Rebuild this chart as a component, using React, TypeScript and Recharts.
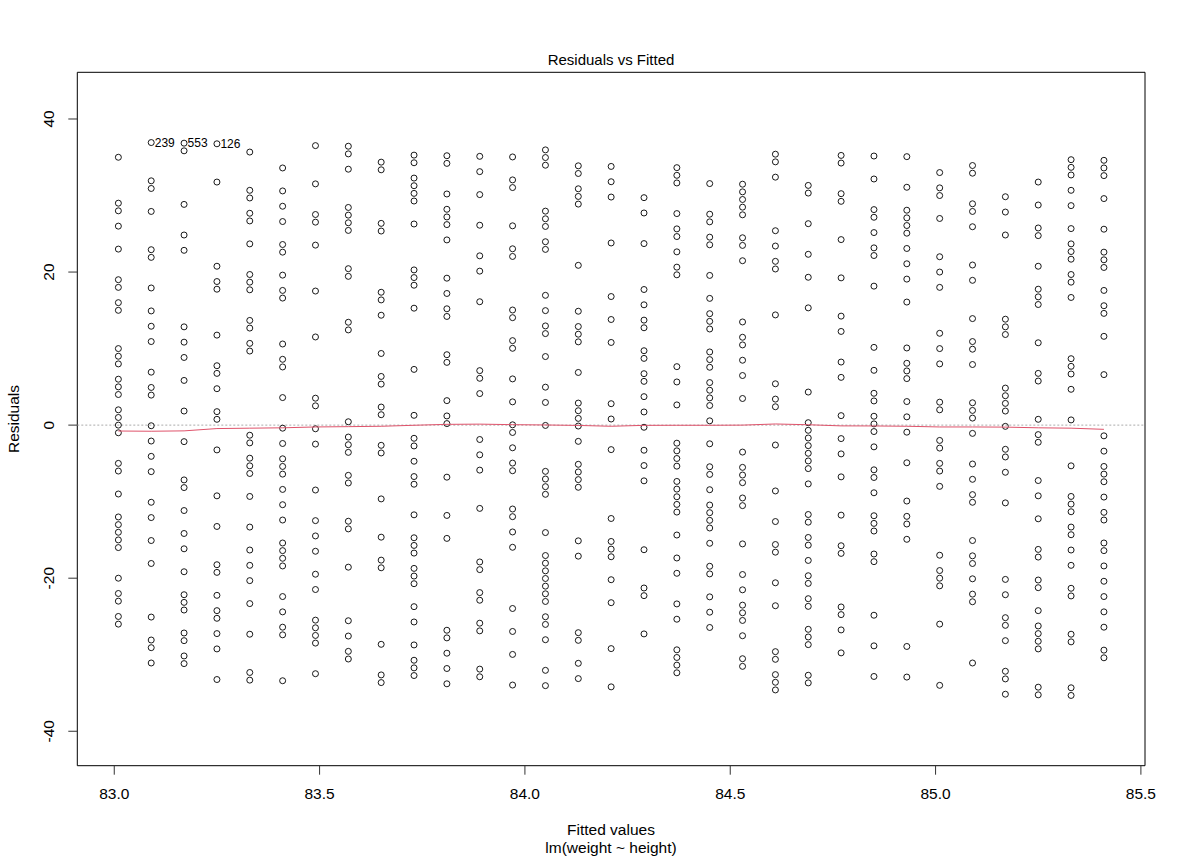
import React from "react";
import { ScatterChart, Scatter, XAxis, YAxis, ReferenceLine, ReferenceArea } from "recharts";

// Fitted values (one per distinct height)
const fittedValues = [
  83.01, 83.09, 83.17, 83.25, 83.33, 83.41, 83.49, 83.57, 83.65, 83.73, 83.81,
  83.89, 83.97, 84.05, 84.13, 84.21, 84.29, 84.37, 84.45, 84.53, 84.61, 84.69,
  84.77, 84.85, 84.93, 85.01, 85.09, 85.17, 85.25, 85.33, 85.41,
];

// Residuals for each fitted value column
const col00 = [35,29,28,26,23,19,18,16,15,10,9,8,6,5,4,2,1,0,-1,-5,-6,-9,-12,-13,-14,-15,-16,-20,-22,-23,-25,-26];
const col01 = [36.92,31.92,30.92,27.92,22.92,21.92,17.92,14.92,12.92,10.92,6.92,4.92,3.92,-0.08,-2.08,-4.08,-6.08,-10.08,-12.08,-15.08,-18.08,-25.08,-28.08,-29.08,-31.08];
const col02 = [36.84,35.84,28.84,24.84,22.84,12.84,10.84,8.84,5.84,1.84,-2.16,-7.16,-8.16,-11.16,-14.16,-16.16,-19.16,-22.16,-23.16,-24.16,-27.16,-28.16,-30.16,-31.16];
const col03 = [36.76,31.76,20.76,18.76,17.76,11.76,7.76,6.76,4.76,1.76,0.76,-3.24,-9.24,-13.24,-18.24,-19.24,-22.24,-24.24,-25.24,-27.24,-29.24,-33.24];
const col04 = [35.68,30.68,29.68,27.68,26.68,23.68,19.68,18.68,17.68,13.68,12.68,10.68,9.68,-1.32,-2.32,-4.32,-5.32,-6.32,-9.32,-13.32,-16.32,-18.32,-20.32,-23.32,-27.32,-32.32,-33.32];
const col05 = [33.6,30.6,28.6,26.6,23.6,22.6,19.6,17.6,16.6,10.6,8.6,7.6,3.6,-0.4,-2.4,-4.4,-5.4,-6.4,-8.4,-10.4,-12.4,-15.4,-16.4,-17.4,-18.4,-22.4,-24.4,-26.4,-27.4,-33.4];
const col06 = [36.52,31.52,27.52,26.52,23.52,17.52,11.52,3.52,2.52,-0.48,-2.48,-8.48,-12.48,-14.48,-16.48,-19.48,-21.48,-25.48,-26.48,-27.48,-28.48,-32.48];
const col07 = [36.44,35.44,33.44,28.44,27.44,26.44,25.44,20.44,19.44,13.44,12.44,0.44,-1.56,-2.56,-3.56,-6.56,-7.56,-12.56,-13.56,-18.56,-25.56,-27.56,-29.56,-30.56];
const col08 = [34.36,33.36,26.36,25.36,17.36,16.36,14.36,9.36,6.36,5.36,2.36,1.36,-2.64,-3.64,-9.64,-14.64,-17.64,-18.64,-28.64,-32.64,-33.64];
const col09 = [35.28,34.28,32.28,31.28,30.28,29.28,26.28,20.28,19.28,18.28,15.28,7.28,1.28,-1.72,-2.72,-4.72,-6.72,-7.72,-11.72,-14.72,-15.72,-16.72,-18.72,-19.72,-20.72,-23.72,-25.72,-28.72,-30.72,-31.72,-32.72];
const col10 = [35.2,34.2,30.2,28.2,27.2,26.2,24.2,19.2,17.2,15.2,14.2,9.2,8.2,3.2,1.2,0.2,-6.8,-11.8,-14.8,-26.8,-27.8,-29.8,-31.8,-33.8];
const col11 = [35.12,33.12,30.12,26.12,22.12,20.12,16.12,7.12,6.12,4.12,-1.88,-3.88,-5.88,-10.88,-17.88,-18.88,-21.88,-22.88,-25.88,-26.88,-31.88,-32.88];
const col12 = [35.04,32.04,31.04,26.04,23.04,22.04,15.04,14.04,11.04,10.04,6.04,3.04,0.04,-0.96,-2.96,-4.96,-5.96,-10.96,-11.96,-13.96,-15.96,-23.96,-26.96,-29.96,-33.96];
const col13 = [35.96,34.96,33.96,27.96,26.96,25.96,23.96,22.96,16.96,14.96,12.96,11.96,8.96,4.96,2.96,-0.04,-6.04,-7.04,-8.04,-9.04,-14.04,-17.04,-18.04,-19.04,-20.04,-21.04,-22.04,-23.04,-25.04,-26.04,-28.04,-32.04,-34.04];
const col14 = [33.88,32.88,30.88,29.88,28.88,20.88,14.88,12.88,11.88,10.88,6.88,2.88,1.88,0.88,-0.12,-2.12,-5.12,-6.12,-7.12,-8.12,-15.12,-17.12,-27.12,-28.12,-31.12,-33.12];
const col15 = [33.8,31.8,29.8,23.8,16.8,13.8,10.8,2.8,0.8,-3.2,-12.2,-15.2,-16.2,-17.2,-20.2,-23.2,-29.2,-34.2];
const col16 = [29.72,27.72,23.72,17.72,15.72,13.72,12.72,9.72,8.72,6.72,5.72,3.72,1.72,-0.28,-3.28,-5.28,-7.28,-16.28,-21.28,-22.28,-27.28];
const col17 = [33.64,32.64,31.64,27.64,25.64,24.64,22.64,20.64,19.64,7.64,5.64,2.64,-2.36,-3.36,-4.36,-5.36,-7.36,-8.36,-9.36,-10.36,-11.36,-14.36,-17.36,-19.36,-23.36,-25.36,-29.36,-30.36,-31.36,-32.36];
const col18 = [31.56,27.56,26.56,24.56,23.56,19.56,16.56,14.56,13.56,12.56,9.56,8.56,7.56,5.56,4.56,3.56,2.56,0.56,-2.44,-5.44,-6.44,-8.44,-10.44,-11.44,-12.44,-13.44,-15.44,-18.44,-19.44,-22.44,-24.44,-26.44];
const col19 = [31.48,30.48,29.48,28.48,27.48,24.48,23.48,21.48,13.48,11.48,10.48,8.48,6.48,3.48,-3.52,-5.52,-6.52,-7.52,-9.52,-10.52,-15.52,-19.52,-21.52,-23.52,-24.52,-25.52,-27.52,-30.52,-31.52];
const col20 = [35.4,34.4,32.4,25.4,23.4,21.4,20.4,14.4,5.4,3.4,2.4,-2.6,-8.6,-12.6,-15.6,-16.6,-20.6,-23.6,-29.6,-30.6,-32.6,-33.6,-34.6];
const col21 = [31.32,30.32,26.32,22.32,19.32,15.32,4.32,0.32,-0.68,-1.68,-2.68,-3.68,-4.68,-5.68,-7.68,-11.68,-12.68,-14.68,-15.68,-17.68,-19.68,-20.68,-22.68,-23.68,-26.68,-27.68,-28.68,-32.68,-33.68];
const col22 = [35.24,34.24,30.24,29.24,24.24,19.24,14.24,12.24,8.24,6.24,1.24,-1.76,-3.76,-6.76,-11.76,-15.76,-16.76,-23.76,-24.76,-26.76,-29.76];
const col23 = [35.16,32.16,28.16,27.16,25.16,23.16,22.16,18.16,10.16,7.16,4.16,3.16,1.16,0.16,-0.84,-2.84,-5.84,-6.84,-8.84,-11.84,-12.84,-13.84,-16.84,-17.84,-24.84,-28.84,-32.84];
const col24 = [35.08,31.08,28.08,27.08,26.08,25.08,23.08,21.08,19.08,16.08,10.08,8.08,7.08,6.08,3.08,1.08,-0.92,-4.92,-9.92,-11.92,-12.92,-14.92,-28.92,-32.92];
const col25 = [33,31,30,27,22,20,18,12,10,8,3,2,-2,-3,-5,-6,-8,-17,-19,-20,-21,-26,-34];
const col26 = [33.92,32.92,28.92,27.92,25.92,20.92,18.92,13.92,10.92,9.92,7.92,2.92,1.92,0.92,-1.08,-5.08,-7.08,-9.08,-10.08,-15.08,-17.08,-18.08,-20.08,-22.08,-23.08,-31.08];
const col27 = [29.84,27.84,24.84,13.84,12.84,11.84,4.84,3.84,2.84,1.84,-0.16,-3.16,-4.16,-6.16,-10.16,-20.16,-22.16,-25.16,-26.16,-28.16,-32.16,-33.16,-35.16];
const col28 = [31.76,28.76,25.76,24.76,20.76,17.76,16.76,15.76,10.76,6.76,5.76,0.76,-1.24,-2.24,-7.24,-9.24,-12.24,-16.24,-17.24,-20.24,-21.24,-24.24,-26.24,-27.24,-28.24,-29.24,-34.24,-35.24];
const col29 = [34.68,33.68,32.68,30.68,28.68,25.68,23.68,22.68,21.68,19.68,18.68,16.68,8.68,7.68,6.68,4.68,0.68,-5.32,-9.32,-10.32,-11.32,-13.32,-14.32,-16.32,-18.32,-21.32,-22.32,-27.32,-28.32,-34.32,-35.32];
const col30 = [34.6,33.6,32.6,29.6,25.6,22.6,21.6,20.6,17.6,15.6,14.6,11.6,6.6,-1.4,-3.4,-5.4,-6.4,-7.4,-9.4,-11.4,-12.4,-15.4,-16.4,-18.4,-20.4,-22.4,-24.4,-26.4,-29.4,-30.4];

const residualColumns = [
  col00, col01, col02, col03, col04, col05, col06, col07, col08, col09, col10,
  col11, col12, col13, col14, col15, col16, col17, col18, col19, col20, col21,
  col22, col23, col24, col25, col26, col27, col28, col29, col30,
];

// Labelled observations (largest residuals)
const outlierIds = ["239", "553", "126"];
const outlierColumns = [1, 2, 3];

// Smoothed (lowess) residual line, one value per fitted value
const smoothResiduals = [
  -0.77, -0.8, -0.75, -0.45, -0.4, -0.35, -0.24, -0.2, -0.15, -0.02, 0.1,
  0.13, 0.06, 0.02, -0.04, -0.15, -0.03, -0.02, -0.02, 0.0, 0.15, 0.05,
  -0.1, -0.11, -0.15, -0.24, -0.24, -0.26, -0.35, -0.4, -0.55,
];

const xTicks = [83.0, 83.5, 84.0, 84.5, 85.0, 85.5];
const yTicks = [-40, -20, 0, 20, 40];
const xDomain = [82.91, 85.51];
const yDomain = [-44.5, 46.1];

const FONT = '"Liberation Sans", Arial, Helvetica, sans-serif';

type Pt = { x: number; y: number; label?: string };

const points: Pt[] = [];
residualColumns.forEach((col, i) => {
  const oi = outlierColumns.indexOf(i);
  const maxR = Math.max(...col);
  col.forEach((r) => {
    const p: Pt = { x: fittedValues[i], y: r };
    if (oi >= 0 && r === maxR) p.label = outlierIds[oi];
    points.push(p);
  });
});

const smoothData = fittedValues.map((f, i) => ({ x: f, y: smoothResiduals[i] }));

const PointShape = (props: any) => {
  const { cx, cy, payload } = props;
  if (cx == null || cy == null) return <g />;
  return (
    <g>
      <circle cx={cx} cy={cy} r={3} fill="none" stroke="#000" strokeWidth={0.9} />
      {payload && payload.label ? (
        <text x={cx + 3.5} y={cy + 4.3} fontSize={12} fontFamily={FONT} fill="#000">
          {payload.label}
        </text>
      ) : null}
    </g>
  );
};

const XTick = (props: any) => {
  const { x, y, payload } = props;
  return (
    <text x={x} y={y + 22} textAnchor="middle" fontSize={15.5} fontFamily={FONT} fill="#000">
      {Number(payload.value).toFixed(1)}
    </text>
  );
};

const YTick = (props: any) => {
  const { x, y, payload } = props;
  const cx = x - 17.5;
  return (
    <text
      x={cx}
      y={y}
      transform={`rotate(-90, ${cx}, ${y})`}
      textAnchor="middle"
      dominantBaseline="central"
      fontSize={15.5}
      fontFamily={FONT}
      fill="#000"
    >
      {payload.value}
    </text>
  );
};

export default function App() {
  const W = 1181;
  const H = 857;
  return (
    <div style={{ position: "absolute", left: 0, top: 0, width: W, height: H, background: "#fff" }}>
      <ScatterChart
        width={W}
        height={H}
        margin={{ top: 72.3, right: 36, bottom: 51.3, left: 17.3 }}
      >
        <XAxis
          type="number"
          dataKey="x"
          domain={xDomain}
          ticks={xTicks}
          allowDataOverflow
          axisLine={false}
          tickSize={9}
          tickLine={{ stroke: "#333", strokeWidth: 1 }}
          tick={<XTick />}
          height={40}
          interval={0}
        />
        <YAxis
          type="number"
          dataKey="y"
          domain={yDomain}
          ticks={yTicks}
          allowDataOverflow
          axisLine={false}
          tickSize={9}
          tickLine={{ stroke: "#333", strokeWidth: 1 }}
          tick={<YTick />}
          width={60}
          interval={0}
        />
        <ReferenceArea
          x1={xDomain[0]}
          x2={xDomain[1]}
          y1={yDomain[0]}
          y2={yDomain[1]}
          fill="none"
          fillOpacity={0}
          stroke="#000"
          strokeWidth={1}
          ifOverflow="visible"
        />
        <ReferenceLine y={0} stroke="#aaa" strokeDasharray="2 2" strokeWidth={1} />
        <Scatter
          data={points}
          shape={<PointShape />}
          isAnimationActive={false}
        />
        <Scatter
          data={smoothData}
          line={{ stroke: "#DF536B", strokeWidth: 1 }}
          shape={() => <g />}
          isAnimationActive={false}
        />
      </ScatterChart>
      <svg
        width={W}
        height={H}
        style={{ position: "absolute", left: 0, top: 0, pointerEvents: "none" }}
      >
        <text x={611} y={65} textAnchor="middle" fontSize={15} fontFamily={FONT} fill="#000">
          Residuals vs Fitted
        </text>
        <text x={611} y={835} textAnchor="middle" fontSize={15.5} fontFamily={FONT} fill="#000">
          Fitted values
        </text>
        <text x={611} y={853} textAnchor="middle" fontSize={15.5} fontFamily={FONT} fill="#000">
          lm(weight ~ height)
        </text>
        <text
          x={13}
          y={419}
          transform="rotate(-90, 13, 419)"
          textAnchor="middle"
          dominantBaseline="central"
          fontSize={15.5}
          fontFamily={FONT}
          fill="#000"
        >
          Residuals
        </text>
      </svg>
    </div>
  );
}
